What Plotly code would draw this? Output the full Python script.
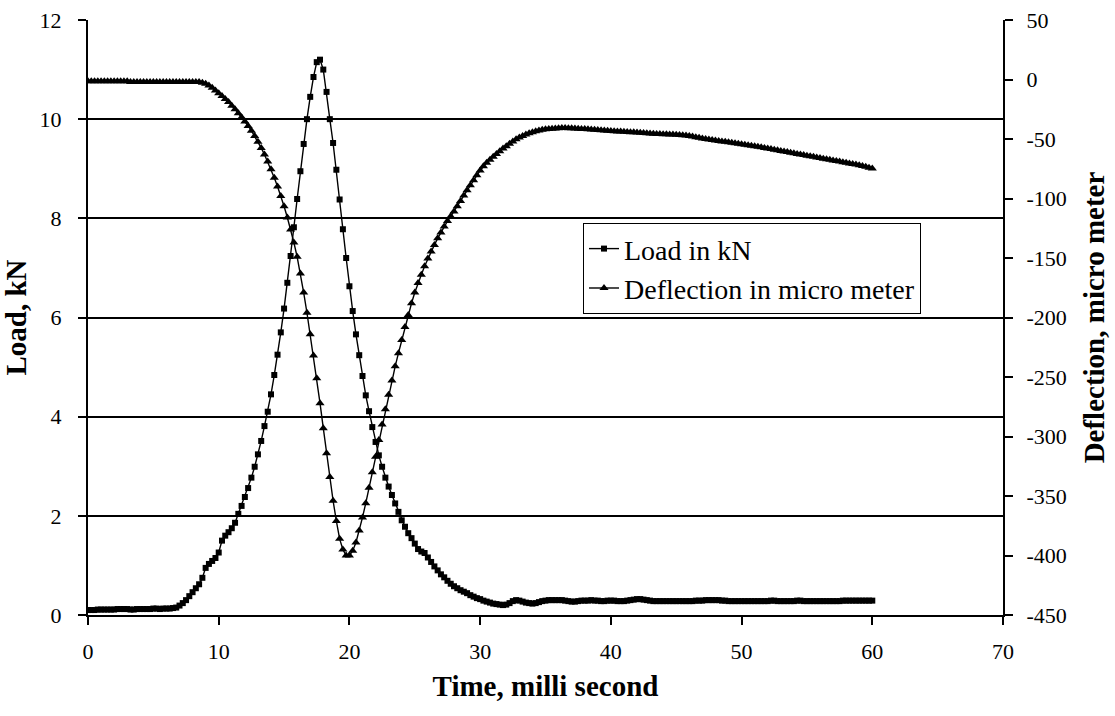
import plotly.graph_objects as go

# sampling: one reading every 0.25 ms from 0 to 60 ms
time_ms = [i * 0.25 for i in range(241)]

load_kN = [
    0.10, 0.10, 0.10, 0.11,  # 0
    0.11, 0.11, 0.11, 0.11,  # 1
    0.11, 0.12, 0.12, 0.12,  # 2
    0.12, 0.11, 0.11, 0.12,  # 3
    0.12, 0.12, 0.12, 0.12,  # 4
    0.13, 0.13, 0.12, 0.13,  # 5
    0.13, 0.13, 0.14, 0.15,  # 6
    0.19, 0.24, 0.30, 0.38,  # 7
    0.46, 0.54, 0.62, 0.75,  # 8
    0.95, 1.03, 1.09, 1.15,  # 9
    1.26, 1.50, 1.60, 1.67,  # 10
    1.75, 1.86, 2.04, 2.20,  # 11
    2.38, 2.56, 2.77, 2.99,  # 12
    3.24, 3.51, 3.81, 4.10,  # 13
    4.45, 4.84, 5.25, 5.70,  # 14
    6.18, 6.70, 7.24, 7.82,  # 15
    8.39, 8.95, 9.50, 10.00,  # 16
    10.45, 10.85, 11.15, 11.20,  # 17
    11.00, 10.55, 10.00, 9.52,  # 18
    8.98, 8.38, 7.78, 7.20,  # 19
    6.63, 6.13, 5.66, 5.24,  # 20
    4.82, 4.43, 4.11, 3.79,  # 21
    3.49, 3.22, 2.99, 2.77,  # 22
    2.59, 2.42, 2.25, 2.08,  # 23
    1.91, 1.78, 1.65, 1.55,  # 24
    1.44, 1.33, 1.28, 1.25,  # 25
    1.16, 1.07, 0.98, 0.90,  # 26
    0.82, 0.76, 0.69, 0.63,  # 27
    0.58, 0.54, 0.50, 0.47,  # 28
    0.44, 0.40, 0.37, 0.34,  # 29
    0.32, 0.29, 0.27, 0.25,  # 30
    0.23, 0.22, 0.21, 0.20,  # 31
    0.21, 0.24, 0.28, 0.30,  # 32
    0.29, 0.27, 0.25, 0.24,  # 33
    0.23, 0.24, 0.26, 0.28,  # 34
    0.29, 0.30, 0.30, 0.30,  # 35
    0.30, 0.30, 0.29, 0.28,  # 36
    0.27, 0.27, 0.28, 0.29,  # 37
    0.29, 0.29, 0.30, 0.29,  # 38
    0.29, 0.28, 0.28, 0.29,  # 39
    0.29, 0.29, 0.28, 0.28,  # 40
    0.28, 0.29, 0.30, 0.31,  # 41
    0.32, 0.32, 0.31, 0.30,  # 42
    0.29, 0.28, 0.28, 0.28,  # 43
    0.28, 0.28, 0.28, 0.28,  # 44
    0.28, 0.28, 0.28, 0.28,  # 45
    0.28, 0.28, 0.29, 0.29,  # 46
    0.29, 0.30, 0.30, 0.30,  # 47
    0.30, 0.30, 0.29, 0.29,  # 48
    0.28, 0.28, 0.28, 0.28,  # 49
    0.28, 0.28, 0.28, 0.28,  # 50
    0.28, 0.28, 0.28, 0.28,  # 51
    0.28, 0.29, 0.29, 0.28,  # 52
    0.28, 0.28, 0.28, 0.28,  # 53
    0.28, 0.29, 0.29, 0.28,  # 54
    0.28, 0.28, 0.28, 0.28,  # 55
    0.28, 0.28, 0.28, 0.28,  # 56
    0.28, 0.28, 0.28, 0.29,  # 57
    0.29, 0.29, 0.29, 0.29,  # 58
    0.29, 0.29, 0.29, 0.29,  # 59
    0.29,                    # 60
]

deflection_um = [
    -1.5, -1.5, -1.5, -1.5,  # 0
    -1.5, -1.5, -1.5, -1.5,  # 1
    -1.5, -1.5, -1.5, -1.5,  # 2
    -1.5, -2.0, -2.0, -2.0,  # 3
    -2.0, -2.0, -2.0, -2.0,  # 4
    -2.0, -2.0, -2.0, -2.0,  # 5
    -2.0, -2.0, -2.0, -2.0,  # 6
    -2.0, -2.0, -2.0, -2.0,  # 7
    -2.0, -2.0, -2.2, -2.8,  # 8
    -3.5, -5.0, -7.0, -9.2,  # 9
    -11.5, -13.8, -16.3, -19.0,  # 10
    -22.0, -25.0, -28.3, -31.7,  # 11
    -35.3, -39.0, -43.0, -47.5,  # 12
    -52.3, -57.5, -63.0, -69.0,  # 13
    -75.5, -82.5, -90.0, -98.0,  # 14
    -106.5, -116.0, -126.0, -137.0,  # 15
    -149.0, -163.0, -179.0, -196.0,  # 16
    -214.0, -232.0, -251.0, -272.0,  # 17
    -293.0, -314.0, -334.0, -354.0,  # 18
    -371.0, -386.0, -395.0, -400.0,  # 19
    -400.0, -396.0, -389.0, -379.0,  # 20
    -368.0, -356.0, -343.0, -330.0,  # 21
    -317.0, -303.0, -290.0, -277.0,  # 22
    -265.0, -253.0, -241.0, -230.0,  # 23
    -219.0, -208.0, -198.0, -188.0,  # 24
    -179.0, -171.0, -164.0, -157.0,  # 25
    -150.5, -144.5, -139.0, -133.5,  # 26
    -128.5, -123.5, -119.0, -115.0,  # 27
    -111.0, -106.5, -102.0, -97.5,  # 28
    -93.0, -88.8, -84.6, -80.5,  # 29
    -76.5, -73.0, -70.0, -67.5,  # 30
    -65.0, -62.5, -60.3, -58.0,  # 31
    -56.0, -54.0, -52.0, -50.3,  # 32
    -48.8, -47.5, -46.3, -45.2,  # 33
    -44.3, -43.5, -42.8, -42.2,  # 34
    -41.8, -41.5, -41.3, -41.1,  # 35
    -40.9, -40.8, -40.8, -40.9,  # 36
    -41.0, -41.1, -41.3, -41.5,  # 37
    -41.7, -41.9, -42.1, -42.3,  # 38
    -42.5, -42.7, -42.9, -43.1,  # 39
    -43.3, -43.5, -43.6, -43.8,  # 40
    -44.0, -44.1, -44.3, -44.4,  # 41
    -44.6, -44.8, -45.0, -45.2,  # 42
    -45.4, -45.6, -45.7, -45.8,  # 43
    -46.0, -46.1, -46.2, -46.3,  # 44
    -46.4, -46.6, -46.8, -47.1,  # 45
    -47.5, -48.0, -48.5, -49.0,  # 46
    -49.5, -50.0, -50.4, -50.8,  # 47
    -51.2, -51.6, -52.0, -52.4,  # 48
    -52.8, -53.2, -53.6, -54.0,  # 49
    -54.4, -54.8, -55.2, -55.6,  # 50
    -56.0, -56.5, -57.0, -57.5,  # 51
    -58.0, -58.5, -59.0, -59.5,  # 52
    -60.0, -60.5, -61.0, -61.5,  # 53
    -62.0, -62.5, -63.0, -63.5,  # 54
    -64.0, -64.5, -65.0, -65.5,  # 55
    -66.0, -66.5, -67.0, -67.5,  # 56
    -68.0, -68.5, -69.0, -69.5,  # 57
    -70.0, -70.5, -71.0, -71.5,  # 58
    -72.0, -72.7, -73.4, -74.1,  # 59
    -74.8,                       # 60
]

x_ticks = [0, 10, 20, 30, 40, 50, 60, 70]
load_ticks = [0, 2, 4, 6, 8, 10, 12]
defl_ticks = [50, 0, -50, -100, -150, -200, -250, -300, -350, -400, -450]

FONT = "Liberation Serif, Times New Roman, serif"

fig = go.Figure()
fig.add_trace(go.Scatter(
    x=time_ms, y=load_kN, name="Load in kN", mode="lines+markers",
    line=dict(color="black", width=1.4),
    marker=dict(symbol="square", size=6, color="black"),
    yaxis="y",
))
fig.add_trace(go.Scatter(
    x=time_ms, y=deflection_um, name="Deflection in micro meter", mode="lines+markers",
    line=dict(color="black", width=1.4),
    marker=dict(symbol="triangle-up", size=8, color="black"),
    yaxis="y2",
))

axis_common = dict(
    showline=True, linecolor="black", linewidth=2,
    ticks="outside", ticklen=8, tickwidth=1.5, tickcolor="black",
    zeroline=False, automargin=False,
    tickfont=dict(family=FONT, size=22, color="black"),
)

TITLE_FONT = dict(family=FONT, size=29, color="black")

fig.update_layout(
    width=1115, height=716,
    margin=dict(l=88, r=112, t=20, b=101),
    paper_bgcolor="white", plot_bgcolor="white",
    font=dict(family=FONT, color="black"),
    showlegend=True,
    legend=dict(
        x=0.541, y=0.659, xanchor="left", yanchor="top",
        bgcolor="white", bordercolor="black", borderwidth=1,
        font=dict(family=FONT, size=28, color="black"),
        tracegroupgap=0,
    ),
    xaxis=dict(
        range=[0, 70], tickvals=x_ticks, ticktext=[str(v) for v in x_ticks],
        showgrid=False, ticklabelstandoff=8,
        title=dict(text="<b>Time, milli second</b>", font=TITLE_FONT, standoff=12),
        **axis_common,
    ),
    yaxis=dict(
        range=[0, 12], tickvals=load_ticks, ticktext=[str(v) for v in load_ticks],
        showgrid=True, gridcolor="black", gridwidth=1.5, ticklabelstandoff=12,
        title=dict(text="<b>Load, kN</b>", font=TITLE_FONT, standoff=4),
        **axis_common,
    ),
    yaxis2=dict(
        range=[-450, 50], tickvals=defl_ticks, ticktext=[str(v) for v in defl_ticks],
        overlaying="y", side="right", showgrid=False, ticklabelstandoff=9,
        title=dict(text="<b>Deflection, micro meter</b>", font=TITLE_FONT, standoff=18),
        **axis_common,
    ),
)

fig.write_html("out.html")
